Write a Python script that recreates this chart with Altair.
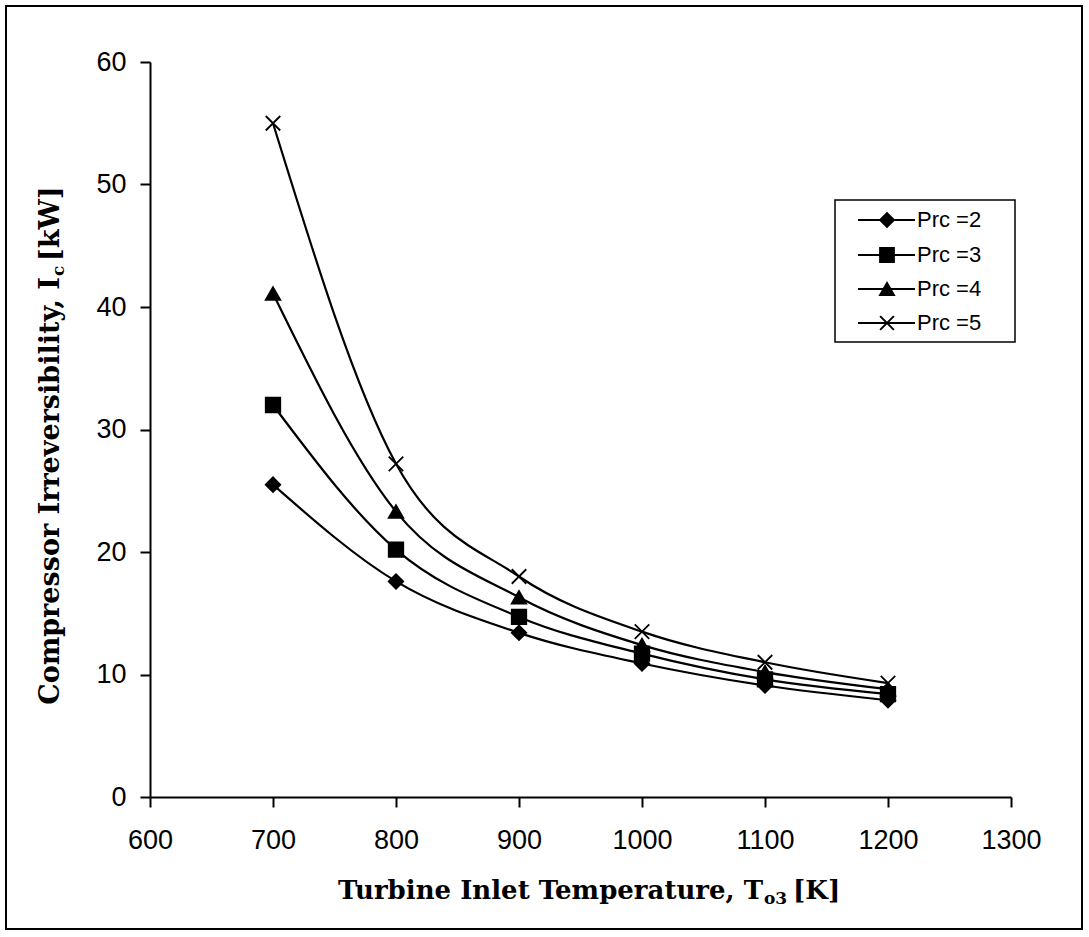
import altair as alt
import pandas as pd

temps = [700, 800, 900, 1000, 1100, 1200]
series_names = ["Prc =2", "Prc =3", "Prc =4", "Prc =5"]
prc2 = [25.5, 17.6, 13.4, 10.9, 9.1, 7.9]
prc3 = [32.0, 20.2, 14.7, 11.7, 9.6, 8.4]
prc4 = [41.1, 23.3, 16.3, 12.4, 10.2, 8.8]
prc5 = [55.0, 27.2, 18.0, 13.5, 11.0, 9.3]
x_ticks = [600, 700, 800, 900, 1000, 1100, 1200, 1300]
y_ticks = [0, 10, 20, 30, 40, 50, 60]

rows = []
for name, vals in zip(series_names, [prc2, prc3, prc4, prc5]):
    for t, v in zip(temps, vals):
        rows.append({"series": name, "T": t, "I": v})
df = pd.DataFrame(rows)

X_PATH = "M-1,-1L1,1M1,-1L-1,1"
shapes = ["diamond", "square", "triangle-up", X_PATH]

W, H = 861, 735
FONT_T = "DejaVu Serif"
FONT_L = "Liberation Sans"

xenc = alt.X("T:Q", scale=alt.Scale(domain=[600, 1300], nice=False, zero=False),
             axis=alt.Axis(values=x_ticks, title=None, grid=False, tickSize=10, tickWidth=2,
                           domainWidth=2, domainColor="black", tickColor="black",
                           labelColor="black", labelFont=FONT_L, labelFontSize=27,
                           labelPadding=20, labelFlush=False, format="d"))
yenc = alt.Y("I:Q", scale=alt.Scale(domain=[0, 60], nice=False),
             axis=alt.Axis(values=y_ticks, title=None, grid=False, tickSize=10, tickWidth=2,
                           domainWidth=2, domainColor="black", tickColor="black",
                           labelColor="black", labelFont=FONT_L, labelFontSize=27,
                           labelPadding=14, labelFlush=False, format="d"))

base = alt.Chart(df)
lines = base.mark_line(interpolate="monotone", color="black", strokeWidth=2.2).encode(
    x=xenc, y=yenc, detail="series:N")
points = base.mark_point(filled=True, fill="black", stroke="black", strokeWidth=1.8,
                         opacity=1, size=210).encode(
    x="T:Q", y="I:Q",
    shape=alt.Shape("series:N", scale=alt.Scale(domain=series_names, range=shapes), legend=None))

one = alt.Data(values=[{"k": 1}])

border = alt.Chart(one).mark_rect(fillOpacity=0, stroke="black", strokeWidth=2).encode(
    x=alt.value(-144), x2=alt.value(932), y=alt.value(-56), y2=alt.value(867))

legend_box = alt.Chart(one).mark_rect(fill="white", stroke="black", strokeWidth=1.5).encode(
    x=alt.value(685), x2=alt.value(865), y=alt.value(138), y2=alt.value(280))

legend_layers = []
row_y = [158, 193, 227, 261]
for name, shp, yy in zip(series_names, shapes, row_y):
    legend_layers.append(alt.Chart(one).mark_rule(color="black", strokeWidth=2).encode(
        x=alt.value(708), x2=alt.value(765), y=alt.value(yy)))
    legend_layers.append(alt.Chart(one).mark_point(filled=True, fill="black", stroke="black",
                                                   strokeWidth=2, opacity=1, size=190).encode(
        x=alt.value(737), y=alt.value(yy), shape=alt.value(shp)))
    legend_layers.append(alt.Chart(one).mark_text(align="left", baseline="middle", font=FONT_L,
                                                  fontSize=22, color="black").encode(
        x=alt.value(767), y=alt.value(yy), text=alt.value(name)))

def ttext(txt, x, y, align, size=26, dx=0, dy=0, angle=0):
    kw = dict(align=align, baseline="alphabetic", font=FONT_T, fontWeight="bold",
              fontSize=size, color="black")
    if dx:
        kw["dx"] = dx
    if dy:
        kw["dy"] = dy
    if angle:
        kw["angle"] = angle
    return alt.Chart(one).mark_text(**kw).encode(
        x=alt.value(x), y=alt.value(y), text=alt.value(txt))

XT_X, XT_Y = 613, 837
x_title = [
    ttext("Turbine Inlet Temperature, T", XT_X, XT_Y, "right", size=26),
    ttext("o3", XT_X, XT_Y, "left", size=17, dx=1, dy=5),
    ttext("[K]", XT_X, XT_Y, "left", size=26, dx=30),
]
YT_X, YT_Y = -91, 215
y_title = [
    ttext("Compressor Irreversibility, I", YT_X, YT_Y, "right", size=27, angle=270),
    ttext("c", YT_X, YT_Y, "left", size=17, dx=1, dy=5, angle=270),
    ttext("[kW]", YT_X, YT_Y, "left", size=27, dx=16, angle=270),
]

chart = alt.layer(border, lines, points, legend_box, *legend_layers, *x_title, *y_title).properties(
    width=W, height=H, padding=5, background="white"
).configure_view(stroke="transparent")

chart.save("out.html", embed_options={"renderer": "svg", "actions": False})
